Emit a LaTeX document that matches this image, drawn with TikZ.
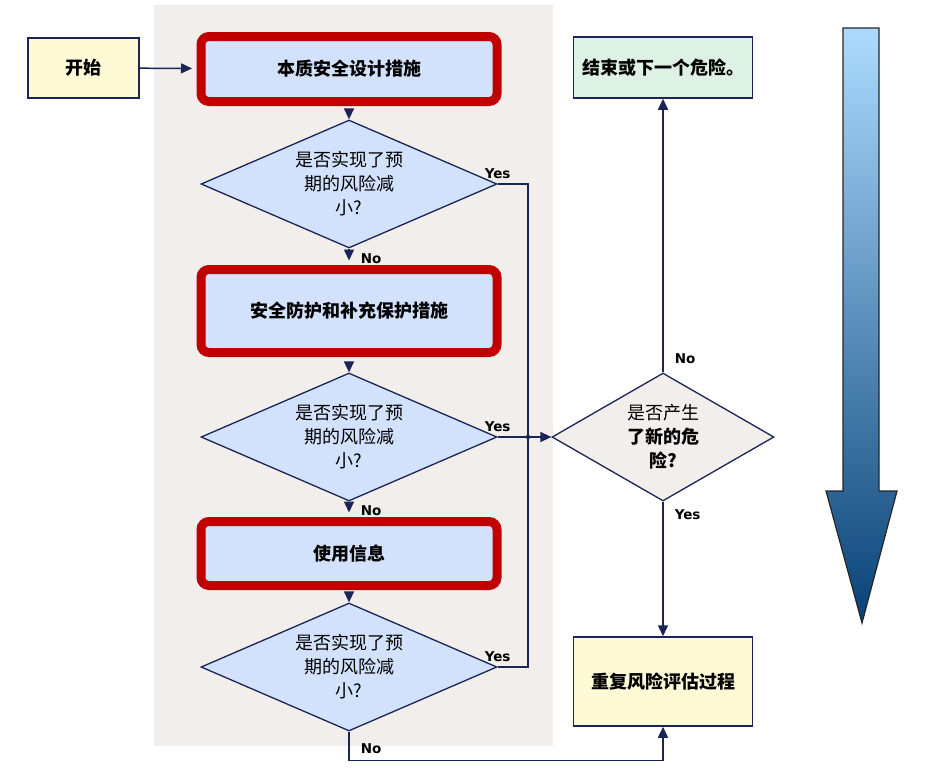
\documentclass[tikz,border=0pt]{standalone}
\usepackage{fontspec}
\setmainfont{Noto Sans CJK SC}
\newfontfamily\labelfont{DejaVu Sans}
\usepackage{tikz}
\usetikzlibrary{arrows.meta, shapes, positioning, calc}
\definecolor{navy}{RGB}{26,36,86}
\definecolor{stepred}{RGB}{192,0,0}
\definecolor{stepblue}{RGB}{211,226,252}
\definecolor{bggray}{RGB}{241,238,235}
\definecolor{termyellow}{RGB}{255,250,214}
\definecolor{endgreen}{RGB}{221,242,228}
\definecolor{arrowtop}{RGB}{173,219,255}
\definecolor{arrowbot}{RGB}{8,66,118}
\tikzset{
   mystep/.style={draw=stepred, line width=9pt, fill=stepblue, rounded corners=8pt, minimum width=296pt, font=\bfseries\fontsize{18}{24}\selectfont},
   mycheck/.style={diamond, draw=navy, line width=1.3pt, fill=stepblue, aspect=2.3, inner sep=0pt, minimum width=296pt, minimum height=128pt, align=center, font=\fontsize{18}{24}\selectfont},
   myterm/.style={draw=navy, line width=1.5pt, fill=termyellow, font=\bfseries\fontsize{18}{24}\selectfont},
   mylabel/.style={font=\labelfont\bfseries\fontsize{13.5}{15}\selectfont, inner sep=1pt},
   myline/.style={draw=navy, line width=1.5pt}
}

\begin{document}
\begin{tikzpicture}[x=1pt, y=-1pt, >={Triangle[length=11pt,width=10pt]}]
  \useasboundingbox (0,0) rectangle (931,777);
  \fill[bggray] (154,5) rectangle (553,746);

  % left column
  \node[myterm, minimum width=111pt, minimum height=60pt] (start) at (83.5,68) {开始};
  \node[mystep, minimum height=65pt] (design) at (349,69) {本质安全设计措施};
  \node[mycheck] (check1) at (349,184) {是否实现了预\\期的风险减\\小?};
  \node[mystep, minimum height=83pt] (guard) at (349,311) {安全防护和补充保护措施};
  \node[mycheck] (check2) at (349,437) {是否实现了预\\期的风险减\\小?};
  \node[mystep, minimum height=64pt] (info) at (349,553.5) {使用信息};
  \node[mycheck] (check3) at (349,667) {是否实现了预\\期的风险减\\小?};

  % right column
  \node[mycheck, fill=bggray, aspect=1.7, minimum width=222pt] (newrisk) at (663,437) {是否产生\\\textbf{了新的危}\\\textbf{险?}};
  \node[myterm, fill=endgreen, minimum width=179pt, minimum height=61pt] (finish) at (663,67.5) {结束或下一个危险。};
  \node[myterm, minimum width=179pt, minimum height=89pt] (repeat) at (663,681.5) {重复风险评估过程};
  \coordinate (join) at (528,437);

  \draw[myline, ->, shorten >=4.5pt] (start) -- (design);
  \draw[myline, ->, shorten <=4.5pt] (design) -- (check1);
  \draw[myline, ->, shorten >=4.5pt] (check1) -- node[mylabel, right=10pt, pos=.6] {No} (guard);
  \draw[myline, ->, shorten <=4.5pt] (guard) -- (check2);
  \draw[myline, ->, shorten >=4.5pt] (check2) -- node[mylabel, right=10pt, pos=.6] {No} (info);
  \draw[myline, ->, shorten <=4.5pt] (info) -- (check3);
  \draw[myline] (check1.east) node[mylabel, above=4pt] {Yes} -| (join);
  \draw[myline] (check3.east) node[mylabel, above=4pt] {Yes} -| (join);
  \draw[myline, ->] (check2.east) node[mylabel, above=4pt] {Yes} -- (newrisk.west);
  \fill[navy] (join) circle (2.2pt);
  \draw[myline, ->] (newrisk) -- node[mylabel, right=10pt, pos=.05] {No} (finish);
  \draw[myline, ->] (newrisk) -- node[mylabel, right=10pt, pos=.1] {Yes} (repeat);
  \draw[myline, ->] (check3.south) -- node[mylabel, right=10pt, pos=.6] {No} ++(0,29) -| (repeat.south);

  % big arrow
  \draw[draw=black!85, line width=1.2pt, top color=arrowtop, bottom color=arrowbot]
    (843,28) -- (879,28) -- (879,491) -- (897,491) -- (862,623) -- (826,491) -- (843,491) -- cycle;
\end{tikzpicture}
\end{document}
